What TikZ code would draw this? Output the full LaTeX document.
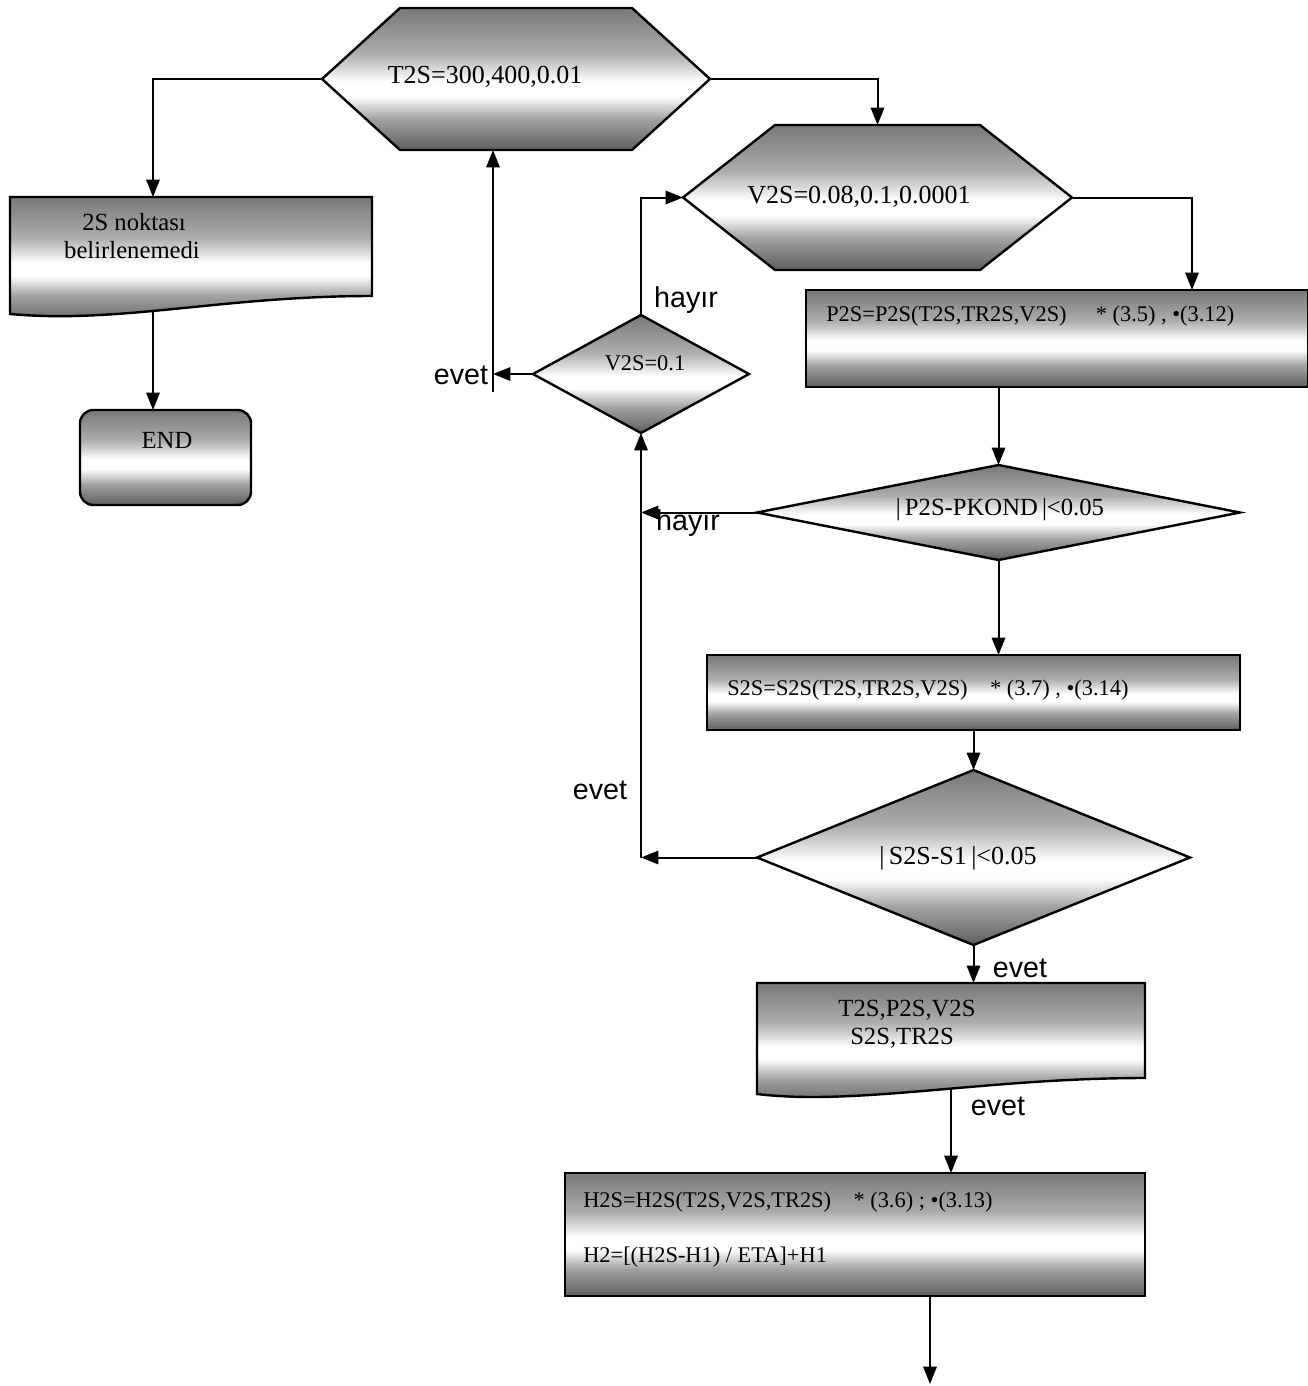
\documentclass[tikz,border=0pt]{standalone}
\usepackage{fontspec}
\setmainfont{Liberation Serif}
\newfontfamily\labelfont{Liberation Sans}
\usetikzlibrary{arrows.meta,calc}

% metallic band fill used by every box
\definecolor{mtop}{HTML}{787878}
\definecolor{mupper}{HTML}{ADADAD}
\definecolor{mlower}{HTML}{A2A2A2}
\definecolor{mbot}{HTML}{5E5E5E}
\pgfdeclareverticalshading{metal}{100bp}{color(0bp)=(mbot); color(25bp)=(mbot); color(36bp)=(mlower); color(44bp)=(white); color(49bp)=(white); color(59bp)=(mupper); color(75bp)=(mtop); color(100bp)=(mtop)}

\begin{document}
\begin{tikzpicture}[x=0.75pt,y=-0.75pt,
  slot/.style n args={2}{draw=none,inner sep=0pt,outer sep=0pt,minimum width={#1*0.75pt},minimum height={#2*0.75pt}},
  metalbox/.style={shade,shading=metal,draw=black,line width=1.8pt,line join=miter},
  arr/.style={line width=1.5pt,-{Triangle[length=13pt,width=10pt]}},
  txt/.style={inner sep=0pt,font=\fontsize{16.8}{20}\selectfont},
  bigtxt/.style={inner sep=0pt,font=\fontsize{19.5}{23}\selectfont},
  midtxt/.style={inner sep=0pt,font=\fontsize{18.5}{22}\selectfont},
  lbl/.style={inner sep=0pt,font=\labelfont\fontsize{21.5}{25}\selectfont}]

\useasboundingbox (0,0) rectangle (1308,1386);

% ---- shape frames (anchors only) ----
\node[slot={388}{142}] (hT)   at (516,79)     {};
\node[slot={389}{145}] (hV)   at (877.5,197.5) {};
\node[slot={362}{99}]  (dNok) at (191,246.5)  {};
\node[slot={171}{95}]  (End)  at (165.5,457.5) {};
\node[slot={502}{97}]  (P2S)  at (1057,338.5) {};
\node[slot={216}{118}] (dV)   at (641,374)    {};
\node[slot={483}{95}]  (dP)   at (998.5,512.5) {};
\node[slot={533}{75}]  (S2S)  at (973.5,692.5) {};
\node[slot={433}{175}] (dS)   at (973.5,857.5) {};
\node[slot={388}{95}]  (out)  at (951,1030.5) {};
\node[slot={580}{123}] (H2S)  at (855,1234.5) {};

\coordinate (xA) at (153,0);
\coordinate (xB) at (1192,0);
\coordinate (xD) at (930,0);
\coordinate (xE) at (493,0);
\coordinate (eBot) at (493,392);
\coordinate (tail) at (930,1384);

% ---- connectors ----
\draw[arr] (hT.west) -| (xA |- dNok.north);
\draw[arr] (hT.east) -| (hV.north);
\draw[arr] (xA |- dNok.south) -- (xA |- End.north);
\draw[arr] (hV.east) -| (xB |- P2S.north);
\draw[arr] (P2S.south -| dP.north) -- (dP.north);
\draw[arr] (dP.south) -- (S2S.north -| dP.south);
\draw[arr] (S2S.south -| dS.north) -- (dS.north);
\draw[arr] (dS.south) -- (out.north -| dS.south);
\draw[arr] (out.south) -- (H2S.north -| out.south);
\draw[arr] (xD |- H2S.south) -- (tail);
\draw[arr] (dP.west) -- (dP.west -| dV.south);
\draw[arr] (dS.west) -- (dS.west -| dV.south);
\draw[arr] (dS.west -| dV.south) -- (dV.south);
\draw[arr] (dV.north) |- (hV.west);
\draw[arr] (dV.west) -- (xE |- dV.west);
\draw[arr] (eBot) -- (xE |- hT.south);

% ---- shapes ----
\path[metalbox] (hT.west) -- ($(hT.north west)+(78,0)$) -- ($(hT.north east)+(-78,0)$) -- (hT.east)
  -- ($(hT.south east)+(-78,0)$) -- ($(hT.south west)+(78,0)$) -- cycle;
\path[metalbox] (hV.west) -- ($(hV.north west)+(92,0)$) -- ($(hV.north east)+(-92,0)$) -- (hV.east)
  -- ($(hV.south east)+(-92,0)$) -- ($(hV.south west)+(92,0)$) -- cycle;
\path[metalbox] (dNok.north west) -- (dNok.north east) -- (dNok.south east)
  .. controls ($(dNok.south east)+(-150,0)$) and ($(dNok.south west)+(110,28)$) .. ($(dNok.south west)+(0,18)$) -- cycle;
\path[metalbox,rounded corners=10pt] (End.north west) rectangle (End.south east);
\path[metalbox] (P2S.north west) rectangle (P2S.south east);
\path[metalbox] (dV.west) -- (dV.north) -- (dV.east) -- (dV.south) -- cycle;
\path[metalbox] (dP.west) -- (dP.north) -- (dP.east) -- (dP.south) -- cycle;
\path[metalbox] (S2S.north west) rectangle (S2S.south east);
\path[metalbox] (dS.west) -- (dS.north) -- (dS.east) -- (dS.south) -- cycle;
\path[metalbox] (out.north west) -- (out.north east) -- (out.south east)
  .. controls ($(out.south east)+(-160,0)$) and ($(out.south west)+(100,28)$) .. ($(out.south west)+(0,16)$) -- cycle;
\path[metalbox] (H2S.north west) rectangle (H2S.south east);

% ---- texts ----
\node[bigtxt] (tT)  at (485,77)  {T2S=300,400,0.01};
\node[bigtxt] (tV)  at (859,197) {V2S=0.08,0.1,0.0001};
\node[midtxt] (tN1) at (134,222) {2S noktası};
\node[midtxt] (tN2) at (132,250) {belirlenemedi};
\node[midtxt] (tE)  at (167,440) {END};
\node[txt,anchor=west] (tP) at (826,316) {P2S=P2S(T2S,TR2S,V2S)\hspace{1.3em}* (3.5) , •(3.12)};
\node[txt] (tdV) at (645,363) {V2S=0.1};
\node[midtxt] (tdP) at (1000,510) {|\,P2S-PKOND\,|<0.05};
\node[txt,anchor=west] (tS) at (727,690) {S2S=S2S(T2S,TR2S,V2S)\hspace{1em}* (3.7) , •(3.14)};
\node[bigtxt] (tdS) at (958,858) {|\,S2S-S1\,|<0.05};
\node[midtxt] (tO1) at (907,1010) {T2S,P2S,V2S};
\node[midtxt] (tO2) at (902,1038) {S2S,TR2S};
\node[txt,anchor=west] (tH1) at (583,1202) {H2S=H2S(T2S,V2S,TR2S)\hspace{1em}* (3.6) ; •(3.13)};
\node[txt,anchor=west] (tH2) at (583,1257) {H2=[(H2S-H1) / ETA]+H1};

% ---- branch labels ----
\node[lbl] (l1) at (686,300)  {hayır};
\node[lbl] (l2) at (461,375)  {evet};
\node[lbl] (l3) at (688,523)  {hayır};
\node[lbl] (l4) at (600,790)  {evet};
\node[lbl] (l5) at (1020,968) {evet};
\node[lbl] (l6) at (998,1106) {evet};
\end{tikzpicture}
\end{document}
